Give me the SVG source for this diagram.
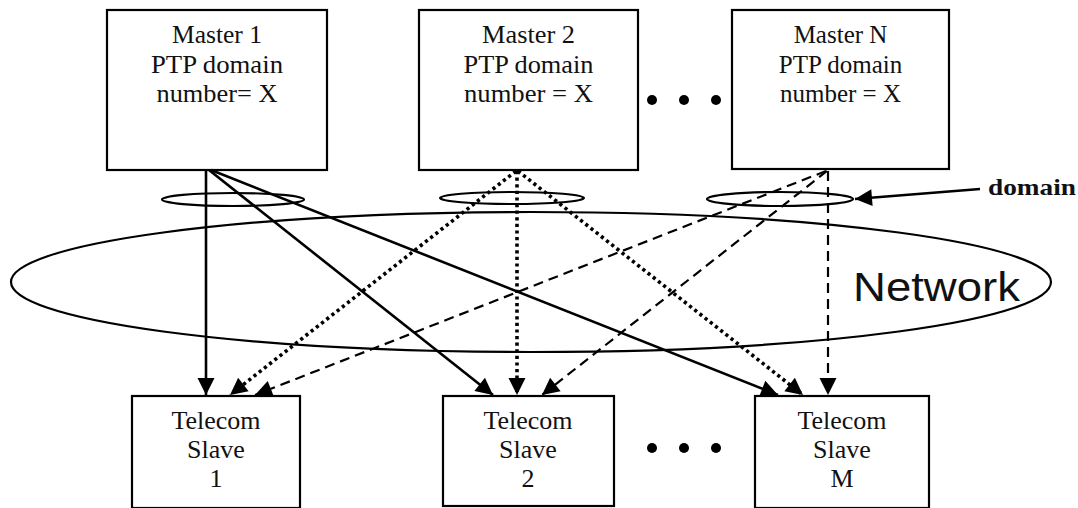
<svg xmlns="http://www.w3.org/2000/svg" width="1078" height="508" viewBox="0 0 1078 508">
<style>
.box{fill:#fff;stroke:#000;stroke-width:2.2}
.t{font-family:"Liberation Serif","Times New Roman",serif;font-size:25px;fill:#111;text-anchor:middle}
.ts{font-family:"Liberation Serif","Times New Roman",serif;font-size:26px;fill:#111;text-anchor:middle}
.ell{fill:none;stroke:#000;stroke-width:2.2}
.solid{stroke:#000;stroke-width:2.6;fill:none;marker-end:url(#ah)}
.dot{stroke:#000;stroke-width:3.6;fill:none;stroke-dasharray:3.2 3.4;marker-end:url(#ah)}
.dash{stroke:#000;stroke-width:2.2;fill:none;stroke-dasharray:10 6;marker-end:url(#ah)}
</style>
<defs>
<marker id="ah" markerUnits="userSpaceOnUse" viewBox="0 0 18 18" markerWidth="18" markerHeight="18" refX="17" refY="9" orient="auto" overflow="visible">
<path d="M0,0.5 L17,9 L0,17.5 z" fill="#000"/>
</marker>
</defs>
<rect width="1078" height="508" fill="#fff"/>
<g id="network">
<ellipse class="ell" cx="531" cy="282" rx="520" ry="70"/>
<text x="853" y="301" font-family="Liberation Sans, Arial, sans-serif" font-size="41" textLength="167" lengthAdjust="spacingAndGlyphs" fill="#111">Network</text>
</g>
<g id="domains">
<ellipse class="ell" cx="233" cy="199.5" rx="71" ry="6.5"/>
<ellipse class="ell" cx="512" cy="198" rx="72" ry="6"/>
<ellipse class="ell" cx="780" cy="199" rx="73" ry="7"/>
</g>
<g id="master1">
<rect class="box" x="107" y="10" width="220" height="160"/>
<text class="t" x="217" y="43" textLength="90" lengthAdjust="spacingAndGlyphs">Master 1</text>
<text class="t" x="217" y="73" textLength="132" lengthAdjust="spacingAndGlyphs">PTP domain</text>
<text class="t" x="217" y="102" textLength="121" lengthAdjust="spacingAndGlyphs">number= X</text>
</g>
<g id="master2">
<rect class="box" x="419" y="10" width="219" height="160"/>
<text class="t" x="528.5" y="43" textLength="93" lengthAdjust="spacingAndGlyphs">Master 2</text>
<text class="t" x="528.5" y="73" textLength="130" lengthAdjust="spacingAndGlyphs">PTP domain</text>
<text class="t" x="528.5" y="102" textLength="129" lengthAdjust="spacingAndGlyphs">number = X</text>
</g>
<g id="masterN">
<rect class="box" x="732" y="10" width="217" height="159"/>
<text class="t" x="840.5" y="43">Master N</text>
<text class="t" x="840.5" y="73">PTP domain</text>
<text class="t" x="840.5" y="102">number = X</text>
</g>
<g id="dots-top" fill="#000">
<circle cx="652" cy="100" r="5"/>
<circle cx="684" cy="100" r="5"/>
<circle cx="716" cy="100" r="5"/>
</g>
<g id="slave1">
<rect class="box" x="132" y="396" width="168" height="112"/>
<text class="ts" x="216" y="429">Telecom</text>
<text class="ts" x="216" y="458">Slave</text>
<text class="ts" x="216" y="487">1</text>
</g>
<g id="slave2">
<rect class="box" x="443" y="396" width="171" height="110"/>
<text class="ts" x="528" y="429">Telecom</text>
<text class="ts" x="528" y="458">Slave</text>
<text class="ts" x="528" y="487">2</text>
</g>
<g id="slaveM">
<rect class="box" x="755" y="396" width="174" height="112"/>
<text class="ts" x="842" y="429">Telecom</text>
<text class="ts" x="842" y="458">Slave</text>
<text class="ts" x="842" y="487">M</text>
</g>
<g id="dots-bottom" fill="#000">
<circle cx="652" cy="448" r="5"/>
<circle cx="684" cy="448" r="5"/>
<circle cx="716" cy="448" r="5"/>
</g>
<g id="connectors">
<line class="solid" x1="206" y1="170" x2="206" y2="395"/>
<line class="solid" x1="209" y1="170" x2="493" y2="395"/>
<line class="solid" x1="211" y1="170" x2="778" y2="395"/>
<line class="dot" x1="516" y1="171" x2="230" y2="395"/>
<line class="dot" x1="517" y1="171" x2="517" y2="395"/>
<line class="dot" x1="518" y1="171" x2="803" y2="395"/>
<line class="dash" x1="826" y1="171" x2="255" y2="395"/>
<line class="dash" x1="827" y1="171" x2="542" y2="395"/>
<line class="dash" x1="828" y1="171" x2="828" y2="395"/>
<line class="solid" x1="980" y1="189" x2="855" y2="199"/>
</g>
<g id="domain-label">
<text x="988" y="195" font-family="Liberation Serif, Times New Roman, serif" font-weight="bold" font-size="23" textLength="88" lengthAdjust="spacingAndGlyphs" fill="#111">domain</text>
</g>
</svg>
